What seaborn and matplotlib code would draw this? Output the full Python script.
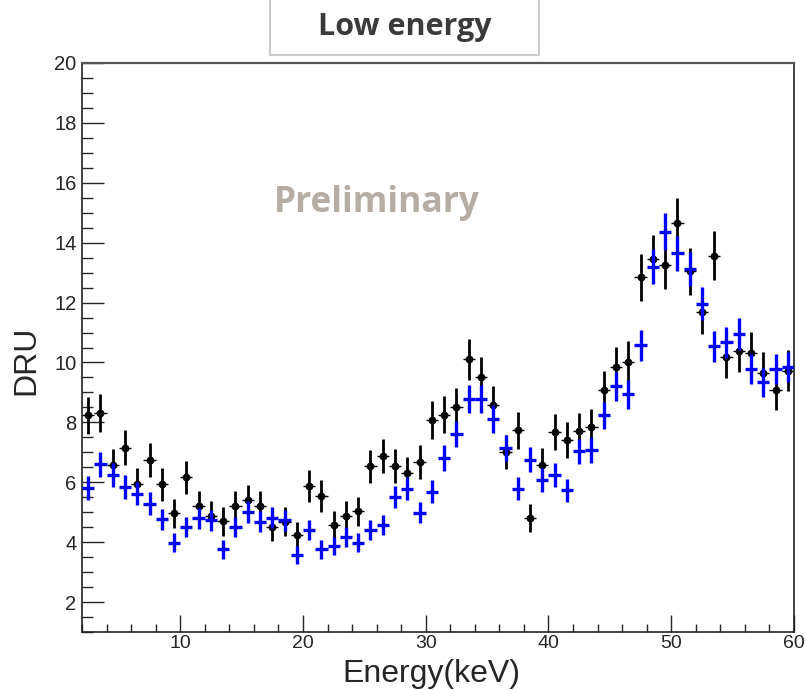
import numpy as np
import pandas as pd
import matplotlib
matplotlib.use("Agg")
import matplotlib.pyplot as plt
import seaborn as sns
from matplotlib.patches import Rectangle
from matplotlib.ticker import MultipleLocator

# ---- data ----
energy = [2.5, 3.5, 4.5, 5.5, 6.5, 7.5, 8.5, 9.5, 10.5, 11.5, 12.5, 13.5, 14.5, 15.5,
          16.5, 17.5, 18.5, 19.5, 20.5, 21.5, 22.5, 23.5, 24.5, 25.5, 26.5, 27.5, 28.5,
          29.5, 30.5, 31.5, 32.5, 33.5, 34.5, 35.5, 36.5, 37.5, 38.5, 39.5, 40.5, 41.5,
          42.5, 43.5, 44.5, 45.5, 46.5, 47.5, 48.5, 49.5, 50.5, 51.5, 52.5, 53.5, 54.5,
          55.5, 56.5, 57.5, 58.5, 59.5]

black_dru = [8.23, 8.31, 6.56, 7.16, 5.93, 6.73, 5.93, 4.96, 6.16, 5.21, 4.88, 4.70, 5.21, 5.40,
             5.21, 4.51, 4.68, 4.23, 5.87, 5.54, 4.57, 4.88, 5.03, 6.53, 6.88, 6.54, 6.30,
             6.68, 8.09, 8.26, 8.51, 10.10, 9.51, 8.59, 7.01, 7.73, 4.81, 6.57, 7.68, 7.40,
             7.71, 7.84, 9.07, 9.84, 10.01, 12.84, 13.46, 13.27, 14.66, 13.04, 11.70, 13.57, 10.18,
             10.38, 10.32, 9.66, 9.07, 9.73]
black_err = [0.63, 0.63, 0.56, 0.59, 0.54, 0.57, 0.54, 0.49, 0.55, 0.50, 0.49, 0.48, 0.50, 0.51,
             0.50, 0.47, 0.48, 0.45, 0.53, 0.52, 0.47, 0.49, 0.49, 0.56, 0.58, 0.56, 0.55,
             0.57, 0.63, 0.63, 0.64, 0.70, 0.68, 0.64, 0.58, 0.61, 0.48, 0.56, 0.61, 0.60,
             0.61, 0.62, 0.66, 0.69, 0.70, 0.79, 0.81, 0.80, 0.84, 0.79, 0.75, 0.81, 0.70,
             0.71, 0.71, 0.68, 0.66, 0.69]

blue_dru = [5.81, 6.60, 6.23, 5.84, 5.62, 5.29, 4.77, 3.98, 4.51, 4.79, 4.73, 3.76, 4.51, 5.01,
            4.68, 4.82, 4.73, 3.57, 4.40, 3.76, 3.87, 4.18, 3.98, 4.40, 4.57, 5.51, 5.79,
            4.99, 5.68, 6.81, 7.62, 8.77, 8.77, 8.12, 7.14, 5.79, 6.76, 6.07, 6.23, 5.73,
            7.04, 7.07, 8.23, 9.20, 8.94, 10.57, 13.20, 14.37, 13.64, 13.12, 11.96, 10.54, 10.68,
            10.96, 9.79, 9.34, 9.77, 9.84]
blue_err = [0.39, 0.41, 0.40, 0.39, 0.38, 0.37, 0.35, 0.32, 0.34, 0.35, 0.35, 0.31, 0.34, 0.36,
            0.35, 0.35, 0.35, 0.30, 0.34, 0.31, 0.31, 0.33, 0.32, 0.34, 0.34, 0.38, 0.38,
            0.36, 0.38, 0.42, 0.44, 0.47, 0.47, 0.46, 0.43, 0.38, 0.42, 0.39, 0.40, 0.38,
            0.42, 0.43, 0.46, 0.49, 0.48, 0.52, 0.58, 0.61, 0.59, 0.58, 0.55, 0.52, 0.52,
            0.53, 0.50, 0.49, 0.50, 0.50]

bin_half_width = 0.5

df_black = pd.DataFrame({"Energy": energy, "DRU": black_dru, "err": black_err})
df_blue = pd.DataFrame({"Energy": energy, "DRU": blue_dru, "err": blue_err})

# ---- style ----
sns.set_style("white")
plt.rcParams["font.family"] = ["Liberation Sans", "DejaVu Sans"]

W, H = 806, 690
fig = plt.figure(figsize=(W / 100, H / 100), dpi=100)
ax_l, ax_r, ax_t, ax_b = 82, 794, 63, 632
ax = fig.add_axes([ax_l / W, 1 - ax_b / H, (ax_r - ax_l) / W, (ax_b - ax_t) / H])

# black series: thin horizontal bars, thicker vertical bars, dot markers
ax.errorbar(df_black["Energy"], df_black["DRU"], xerr=bin_half_width, fmt="none",
            ecolor="black", elinewidth=1.0, capsize=0, zorder=2)
ax.errorbar(df_black["Energy"], df_black["DRU"], yerr=df_black["err"], fmt="none",
            ecolor="black", elinewidth=2.0, capsize=0, zorder=2)
sns.scatterplot(data=df_black, x="Energy", y="DRU", ax=ax, color="black", s=26,
                edgecolor="black", linewidth=0.5, zorder=3, legend=False)

# blue series: crosses
ax.errorbar(df_blue["Energy"], df_blue["DRU"], xerr=bin_half_width, yerr=df_blue["err"],
            fmt="none", ecolor="#0000ff", elinewidth=2.4, capsize=0, zorder=4)

ax.set_xlim(2, 60)
ax.set_ylim(1, 20)
ax.xaxis.set_minor_locator(MultipleLocator(2))
ax.yaxis.set_minor_locator(MultipleLocator(0.5))
ax.set_yticks([2, 4, 6, 8, 10, 12, 14, 16, 18, 20])
ax.set_xticks([10, 20, 30, 40, 50, 60])

ax.tick_params(axis="y", which="major", direction="in", length=15.5, width=1.0,
               labelsize=14.5, pad=4, left=True, right=False)
ax.tick_params(axis="y", which="minor", direction="in", length=7.8, width=1.0,
               left=True, right=False)
ax.tick_params(axis="x", which="major", direction="in", length=12, width=1.0,
               labelsize=14, pad=2.5, bottom=True, top=False)
ax.tick_params(axis="x", which="minor", direction="in", length=5.8, width=1.0,
               bottom=True, top=False)

for side in ["left", "bottom", "right"]:
    ax.spines[side].set_color("#222222")
    ax.spines[side].set_linewidth(1.2)
ax.spines["top"].set_color("#555555")
ax.spines["top"].set_linewidth(1.6)

ax.set_xlabel("Energy(keV)", fontsize=23)
ax.xaxis.label.set_va("bottom")
ax.xaxis.set_label_coords(0.49, -(689 - ax_b) / (ax_b - ax_t))
ax.set_ylabel("DRU", fontsize=23)
ax.yaxis.label.set_va("center")
ax.yaxis.set_label_coords((26 - ax_l) / (ax_r - ax_l), (ax_b - 360) / (ax_b - ax_t))

# "Preliminary" watermark
fig.text(377 / W, 1 - 203 / H, "Preliminary", fontsize=25.5, fontweight="bold",
         family=["Open Sans", "DejaVu Sans"], color="#b5aca3", ha="center", va="center")

# title box
fig.patches.append(Rectangle((270 / W, 1 - 55 / H), 269 / W, 60 / H,
                             transform=fig.transFigure, facecolor="white",
                             edgecolor="#c9c9c9", linewidth=1.5))
fig.text(405 / W, 1 - 27 / H, "Low energy", fontsize=22, fontweight="bold",
         family=["Open Sans", "DejaVu Sans"], color="#3a3a3a", ha="center", va="center")

fig.savefig("out.png", dpi=100)
